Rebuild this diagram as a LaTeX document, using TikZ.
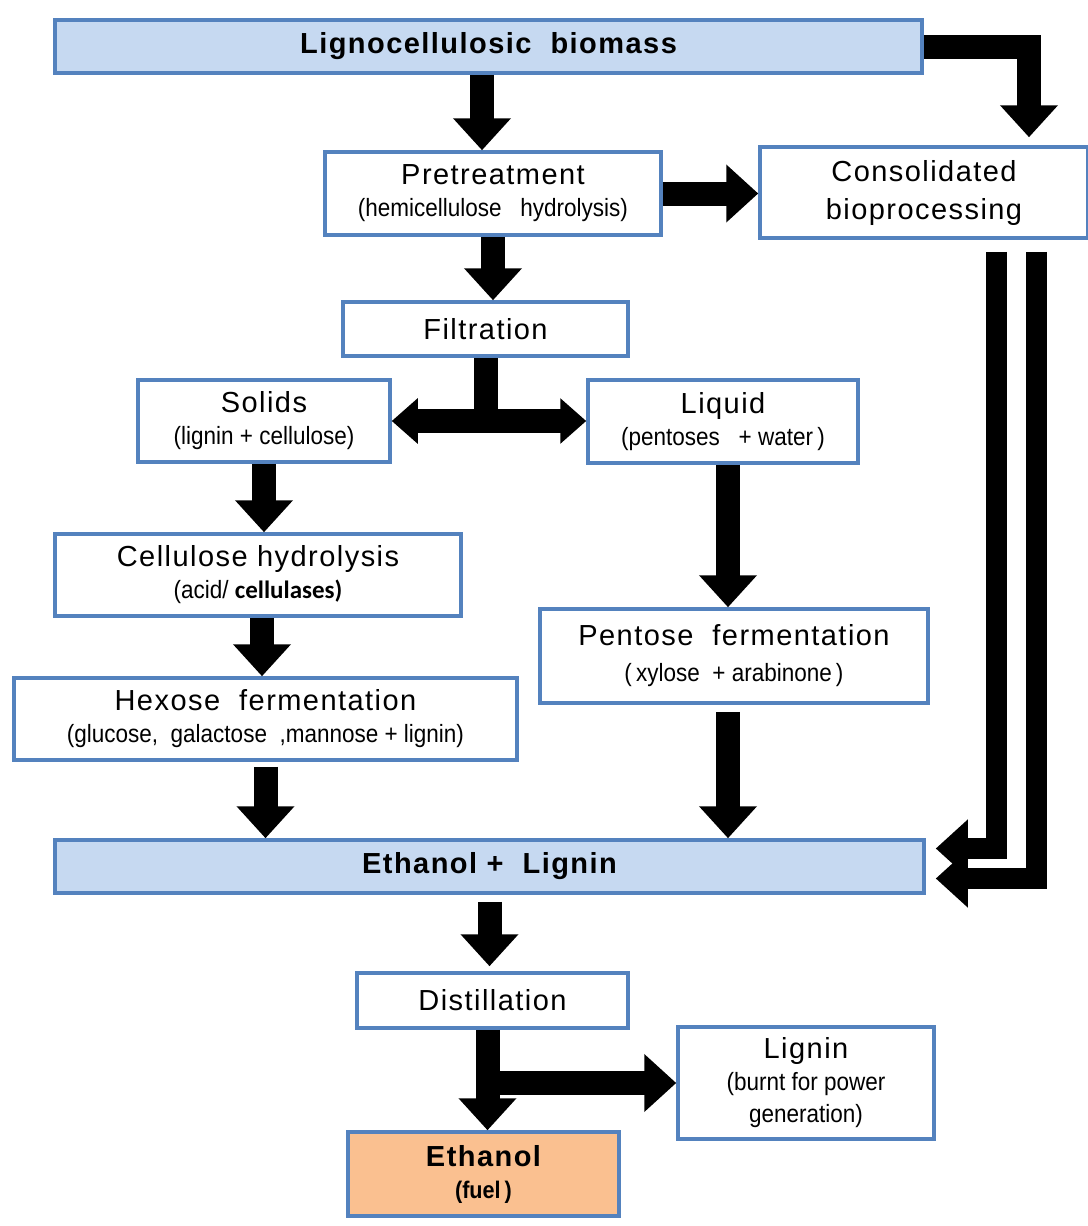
\documentclass[tikz,border=0pt]{standalone}
\usepackage{fontspec}
\setmainfont{Liberation Sans}
\newfontfamily\narrowfont[FakeStretch=0.9]{Liberation Sans}
\newfontfamily\widefont[LetterSpace=5]{Liberation Sans}
\newfontfamily\calibold{Carlito}
\usetikzlibrary{arrows.meta}
\definecolor{boxblue}{RGB}{84,130,190}
\definecolor{boxfill}{RGB}{198,217,241}
\definecolor{fuelfill}{RGB}{250,192,144}
\newcommand\headtxt{\widefont\fontsize{29pt}{32pt}\selectfont}
\newcommand\subtxt{\narrowfont\fontsize{25pt}{29pt}\selectfont}
\newcommand\titletxt{\widefont\bfseries\fontsize{29pt}{32pt}\selectfont}
\tikzset{
  box/.style={draw=boxblue, line width=3.5pt, fill=white, inner sep=0pt,
    align=center, font=\headtxt},
  bluebox/.style={box, fill=boxfill},
  fat/.style={line width=24pt, line join=miter, -{Triangle[length=32pt,width=56pt]}},
  fatboth/.style={line width=24pt, {Triangle[length=26pt,width=44pt]}-{Triangle[length=26pt,width=44pt]}}
}
\begin{document}
\begin{tikzpicture}[x=1pt, y=-1pt]
	\useasboundingbox[fill=white] (0,0) rectangle (1087,1226);
	\node[bluebox, minimum width=867pt, minimum height=53pt] (bio) at (488.5,46.5)
		{\titletxt Lignocellulosic\ \ biomass};
	\node[box, minimum width=336pt, minimum height=83pt] (pre) at (493,193.5)
		{Pretreatment\\{\subtxt (hemicellulose\ \ \ hydrolysis)}};
	\node[box, minimum width=328pt, minimum height=91pt] (cbp) at (924,192.5)
		{Consolidated\\[6pt]bioprocessing};
	\node[box, minimum width=285pt, minimum height=54pt] (fil) at (485.5,329) {Filtration};
	\node[box, minimum width=252pt, minimum height=82pt] (sol) at (264,421)
		{Solids\\{\subtxt (lignin + cellulose)}};
	\node[box, minimum width=270pt, minimum height=83pt] (liq) at (723,421.5)
		{Liquid\\{\subtxt (pentoses\ \ \ + water\,)}};
	\node[box, minimum width=406pt, minimum height=82pt] (cel) at (258,575)
		{Cellulose hydrolysis\\{\subtxt (acid/ {\calibold\bfseries\fontsize{25pt}{29pt}\selectfont cellulases)}}};
	\node[box, minimum width=503pt, minimum height=82pt] (hex) at (265.5,719)
		{Hexose\ \ fermentation\\{\subtxt (glucose,\ \ galactose\ \ ,mannose + lignin)}};
	\node[box, minimum width=388pt, minimum height=94pt] (pen) at (734,656)
		{Pentose\ \ fermentation\\[4pt]{\subtxt (\,xylose\ \ + arabinone\,)}};
	\node[bluebox, minimum width=869pt, minimum height=53pt] (eth) at (489.5,866.5)
		{\titletxt Ethanol\ +\ \ Lignin};
	\node[box, minimum width=271pt, minimum height=55pt] (dis) at (492.5,1000.5) {Distillation};
	\node[box, minimum width=256pt, minimum height=112pt] (lig) at (806,1083)
		{Lignin\\{\subtxt (burnt for power}\\{\subtxt generation)}};
	\node[box, fill=fuelfill, minimum width=271pt, minimum height=84pt] (fuel) at (483.5,1174)
		{\titletxt Ethanol\\{\narrowfont\bfseries\fontsize{24pt}{28pt}\selectfont (fuel\,)}};

	\draw[fat] ([xshift=-11pt]pre.north |- bio.south) -- ([xshift=-11pt]pre.north);
	\draw[fat] (bio.east) -| ([xshift=105pt,yshift=8pt]cbp.north);
	\draw[fat] (pre.east) -- (pre.east -| cbp.west);
	\draw[fat] (pre.south) -- (pre.south |- fil.north);
	\draw[line width=24pt] (fil.south) -- (fil.south |- sol.east);
	\draw[fatboth] (sol.east) -- (sol.east -| liq.west);
	\draw[fat] (sol.south) -- (sol.south |- cel.north);
	\draw[fat] ([xshift=5pt]liq.south) -- ([xshift=5pt]liq.south |- pen.north);
	\draw[fat] ([xshift=4pt]cel.south) -- ([xshift=4pt]cel.south |- hex.north);
	\draw[fat] ([yshift=-5pt]hex.south) -- (hex.south |- eth.north);
	\draw[fat] ([xshift=-6pt,yshift=-7pt]pen.south) -- ([xshift=-6pt]pen.south |- eth.north);
	\draw[fat, line width=21pt] ([xshift=72pt,yshift=-12pt]cbp.south) |- ([xshift=10pt,yshift=18pt]eth.east);
	\draw[fat, line width=21pt] ([xshift=112pt,yshift=-12pt]cbp.south) |- ([xshift=10pt,yshift=-12pt]eth.east);
	\draw[fat] ([yshift=-7pt]eth.south) -- ([yshift=5pt]eth.south |- dis.north);
	\draw[fat] ([xshift=-5pt]dis.south) -- ([xshift=-5pt]dis.south |- fuel.north);
	\draw[fat] (dis.south |- lig.west) -- (lig.west);
\end{tikzpicture}
\end{document}
